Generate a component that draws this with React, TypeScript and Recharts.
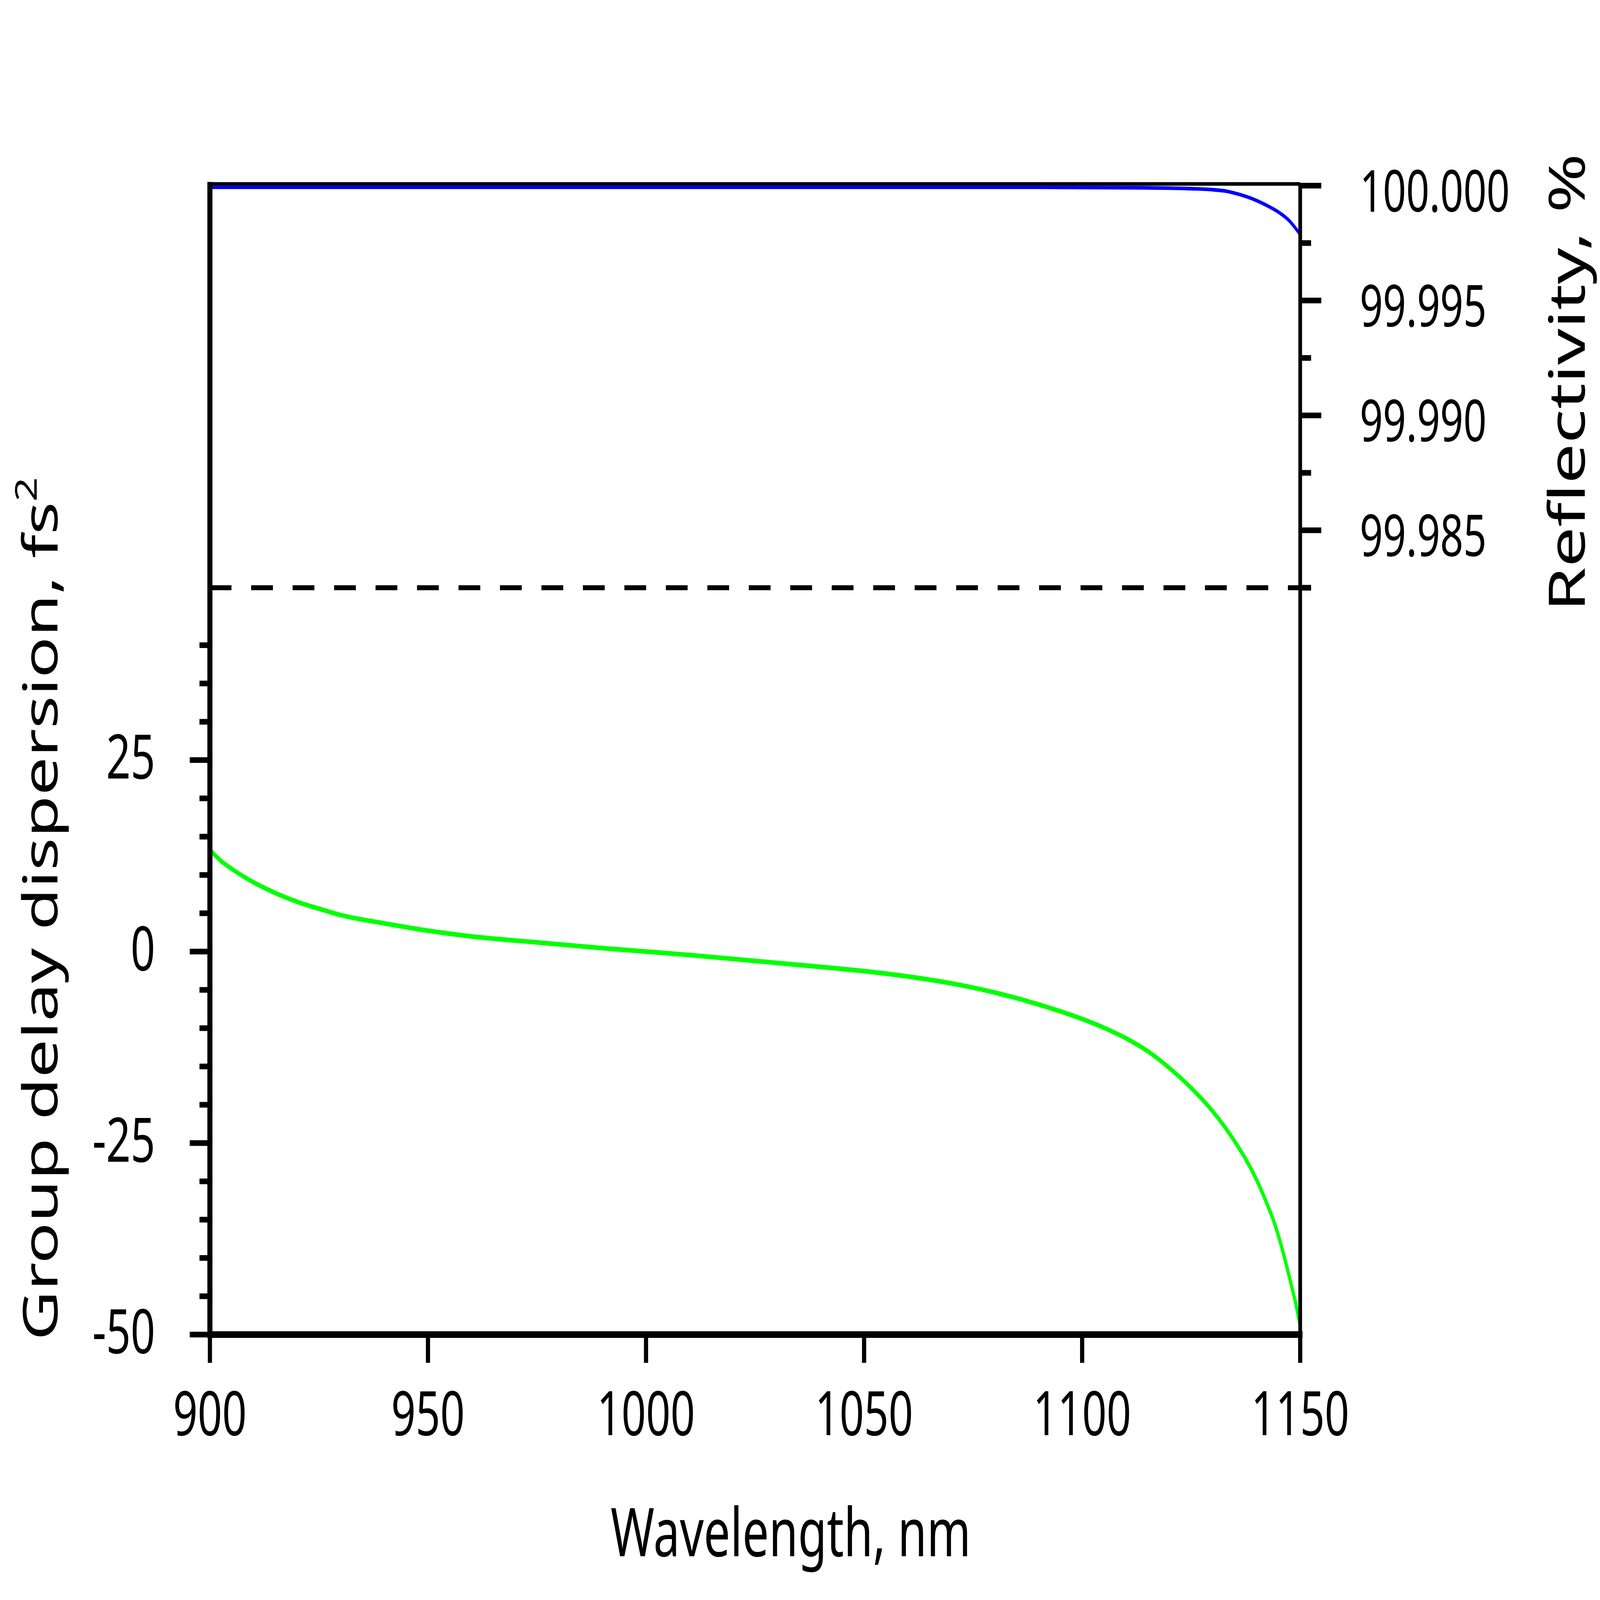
import React from 'react';
import { LineChart, Line, XAxis, YAxis, ReferenceLine } from 'recharts';

// ---- data ----
const GDD_WAVELENGTH = [900, 902.5, 905, 910, 915, 920, 925, 930, 940, 950, 960, 975, 990, 1000, 1010, 1025, 1040, 1050, 1060, 1070, 1080, 1090, 1100, 1105, 1110, 1115, 1120, 1125, 1130, 1135, 1140, 1142, 1144, 1145, 1146, 1147, 1148, 1149, 1150];
const GDD_VALUES = [13.3, 11.85, 10.8, 9.05, 7.65, 6.5, 5.6, 4.77, 3.68, 2.73, 1.98, 1.2, 0.45, 0.0, -0.45, -1.22, -2.0, -2.55, -3.25, -4.15, -5.35, -6.9, -8.8, -9.95, -11.3, -13.0, -15.2, -17.8, -20.9, -24.8, -29.8, -32.4, -35.3, -37.1, -39.1, -41.3, -43.6, -46.0, -48.9];

const REFL_WAVELENGTH = [900, 1000, 1090, 1110, 1120, 1126, 1130, 1133, 1136, 1139, 1142, 1145, 1147.5, 1150];
const REFL_VALUES = [99.99993, 99.99993, 99.99993, 99.99991, 99.99989, 99.99986, 99.99982, 99.99976, 99.99962, 99.99943, 99.99917, 99.99885, 99.99847, 99.99787];

const X_TICKS = [900, 950, 1000, 1050, 1100, 1150];
const LEFT_TICKS = [-50, -45, -40, -35, -30, -25, -20, -15, -10, -5, 0, 5, 10, 15, 20, 25, 30, 35, 40, 45, 50, 55, 60, 65, 70, 75, 80, 85, 90, 95];
const LEFT_MAJOR = [-50, -25, 0, 25];
const LEFT_MINOR = [-45, -40, -35, -30, -20, -15, -10, -5, 5, 10, 15, 20, 30, 35, 40];
const RIGHT_TICKS = [99.9825, 99.985, 99.9875, 99.99, 99.9925, 99.995, 99.9975, 100];
const RIGHT_MAJOR = [99.985, 99.99, 99.995, 100];
const DASH_LEVEL = 99.9825;
const TOP_FRAME_LEVEL = 100.0000724;

const gddData = GDD_WAVELENGTH.map((w, i) => ({ w, gdd: GDD_VALUES[i] }));
const reflData = REFL_WAVELENGTH.map((w, i) => ({ w, r: REFL_VALUES[i] }));

const W = 6906;
const H = 4810;
const FONT = '"Noto Sans", "DejaVu Sans", sans-serif';
const near = (arr: number[], v: number) => arr.some((a) => Math.abs(a - v) < 1e-7);

const XTick = (props: any) => {
  const { x, y, payload } = props;
  return (
    <g>
      <line x1={x} x2={x} y1={y} y2={y + 85} stroke="#000" strokeWidth={18} />
      <text x={x} y={y + 303} textAnchor="middle" fontSize={185} fontFamily={FONT} fill="#000">
        {payload.value}
      </text>
    </g>
  );
};

const LeftTick = (props: any) => {
  const { x, y, payload } = props;
  const v = payload.value;
  const major = near(LEFT_MAJOR, v);
  const minor = near(LEFT_MINOR, v);
  const len = major ? 87 : minor ? 45 : 4;
  return (
    <g>
      <line x1={x} x2={x - len} y1={y} y2={y} stroke="#000" strokeWidth={17} />
      {major && (
        <text x={x - 236} y={y + 56} textAnchor="end" fontSize={185} fontFamily={FONT} fill="#000">
          {String(v)}
        </text>
      )}
    </g>
  );
};

const RightTick = (props: any) => {
  const { x, y, payload } = props;
  const v = payload.value;
  const major = near(RIGHT_MAJOR, v);
  const len = major ? 91 : 47;
  return (
    <g>
      <line x1={x} x2={x + len} y1={y} y2={y} stroke="#000" strokeWidth={17} />
      {major && (
        <text x={x + 257} y={y + 78} textAnchor="start" fontSize={175} fontFamily={FONT} fill="#000">
          {v.toFixed(3)}
        </text>
      )}
    </g>
  );
};

const XTitle = () => (
  <text x={3413} y={4678} textAnchor="middle" fontSize={203} fontFamily={FONT} fill="#000">
    Wavelength, nm
  </text>
);

const LeftTitle = () => (
  <text
    x={248}
    y={4030}
    transform="rotate(-90 248 4030)"
    textAnchor="start"
    fontSize={206}
    fontFamily={FONT}
    fill="#000"
  >
    Group delay dispersion, fs
    <tspan dy={-90} fontSize={130}>2</tspan>
  </text>
);

const RightTitle = () => (
  <text
    x={6841}
    y={1150}
    transform="rotate(-90 6841 1150)"
    textAnchor="middle"
    fontSize={215}
    fontFamily={FONT}
    fill="#000"
  >
    Reflectivity, %
  </text>
);

export default function App() {
  // The capture window can be smaller than the requested page; fit the whole chart into it.
  const vw = typeof window !== 'undefined' && window.innerWidth ? window.innerWidth : W;
  const vh = typeof window !== 'undefined' && window.innerHeight ? window.innerHeight : H;
  const sx = Math.min(1, vw / W);
  const sy = Math.min(1, vh / H);
  return (
    <div style={{ width: Math.round(W * sx), height: Math.round(H * sy), overflow: 'hidden', background: '#fff' }}>
      <style>{`html, body { margin: 0; padding: 0; background: #fff; overflow: hidden; }`}</style>
      <div style={{ width: W, height: H, transform: `scale(${sx}, ${sy})`, transformOrigin: '0 0' }}>
        <LineChart width={W} height={H} margin={{ top: 558, right: 0, bottom: 0, left: 0 }}>
          <XAxis
            dataKey="w"
            type="number"
            domain={[900, 1150]}
            ticks={X_TICKS}
            interval={0}
            allowDataOverflow
            height={798}
            tickSize={0}
            tickMargin={0}
            tickLine={false}
            axisLine={{ stroke: '#000', strokeWidth: 20, strokeLinecap: 'square' }}
            tick={<XTick />}
            label={XTitle}
          />
          <YAxis
            yAxisId="gdd"
            orientation="left"
            type="number"
            domain={[-50, 100]}
            ticks={LEFT_TICKS}
            interval={0}
            allowDataOverflow
            width={906}
            tickSize={0}
            tickMargin={0}
            tickLine={false}
            axisLine={{ stroke: '#000', strokeWidth: 22, strokeLinecap: 'square' }}
            tick={<LeftTick />}
            label={LeftTitle}
          />
          <YAxis
            yAxisId="r"
            orientation="right"
            type="number"
            domain={[99.95, 100]}
            ticks={RIGHT_TICKS}
            interval={0}
            allowDataOverflow
            width={1294}
            tickSize={0}
            tickMargin={0}
            tickLine={false}
            axisLine={{ stroke: '#000', strokeWidth: 16, strokeLinecap: 'square' }}
            tick={<RightTick />}
            label={RightTitle}
          />
          <ReferenceLine
            yAxisId="r"
            y={TOP_FRAME_LEVEL}
            ifOverflow="visible"
            stroke="#000"
            strokeWidth={11}
          />
          <ReferenceLine
            yAxisId="r"
            y={DASH_LEVEL}
            stroke="#000"
            strokeWidth={15}
            strokeDasharray="94 85"
            strokeDashoffset={41}
          />
          <Line
            yAxisId="gdd"
            data={gddData}
            dataKey="gdd"
            type="monotone"
            stroke="#00ff00"
            strokeWidth={14}
            dot={false}
            activeDot={false}
            isAnimationActive={false}
          />
          <Line
            yAxisId="r"
            data={reflData}
            dataKey="r"
            type="monotone"
            stroke="#0000ff"
            strokeWidth={11}
            dot={false}
            activeDot={false}
            isAnimationActive={false}
          />
        </LineChart>
      </div>
    </div>
  );
}
